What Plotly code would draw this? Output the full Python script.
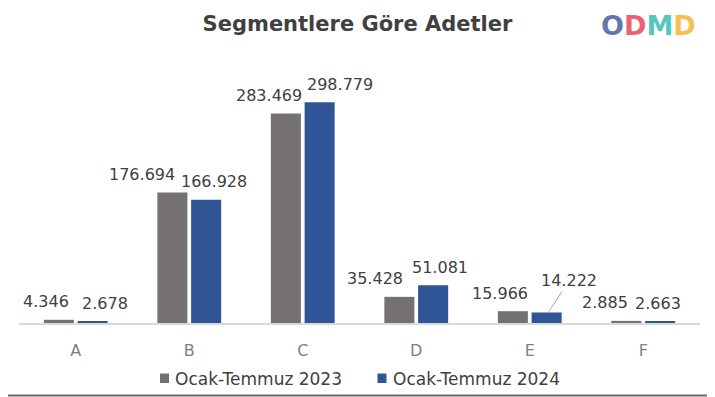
import plotly.graph_objects as go

categories = ["A", "B", "C", "D", "E", "F"]
series_2023 = [4346, 176694, 283469, 35428, 15966, 2885]
series_2024 = [2678, 166928, 298779, 51081, 14222, 2663]
series_names = ["Ocak-Temmuz 2023", "Ocak-Temmuz 2024"]
series_colors = ["#767171", "#2F5597"]
title_text = "Segmentlere Göre Adetler"
logo_letters = ["O", "D", "M", "D"]
logo_colors = ["#4A5FA0", "#E8475E", "#36BDB3", "#F5B533"]

# label horizontal offsets (px, from category centre) - styling only
label_dx_2023 = [-30, -47, -34, -41, -30, -38]
label_dx_2024 = [29, 25, 37, 24, 0, 15]
callout_category = "E"   # 2024 label drawn with leader line

# The page body has an 8px margin; the figure starts at (8, 8) in the window.
OFF = 8
W, H = 715 - OFF, 397 - OFF
ML, MT = 19 - OFF, 60 - OFF
MR = W - (700 - OFF)
MB = H - (323 - OFF)
PW, PH = W - ML - MR, H - MT - MB

FONT = "'DejaVu Sans', sans-serif"
TXT = "#404040"


def fmt(v):
    return f"{v:,}".replace(",", ".")


def sx(px):  # window px -> paper x
    return (px - OFF - ML) / PW


def sy(py):  # window px -> paper y
    return (OFF + H - MB - py) / PH


fig = go.Figure()
fig.add_bar(x=categories, y=series_2023, name=series_names[0], marker_color=series_colors[0],
            marker_line_width=0)
fig.add_bar(x=categories, y=series_2024, name=series_names[1], marker_color=series_colors[1],
            marker_line_width=0)

label_font = dict(family=FONT, size=16, color=TXT)
for c, v, dx in zip(categories, series_2023, label_dx_2023):
    fig.add_annotation(x=c, y=v, xref="x", yref="y", text=fmt(v), showarrow=False,
                       xshift=dx, yshift=18, yanchor="middle", font=label_font)
for c, v, dx in zip(categories, series_2024, label_dx_2024):
    if c == callout_category:
        fig.add_annotation(x=c, y=v, xref="x", yref="y", xshift=18.5, text=fmt(v),
                           showarrow=True, arrowhead=0, arrowcolor="#A6A6A6", arrowwidth=1,
                           ax=21, ay=-32, standoff=1, font=label_font)
    else:
        fig.add_annotation(x=c, y=v, xref="x", yref="y", text=fmt(v), showarrow=False,
                           xshift=dx, yshift=18, yanchor="middle", font=label_font)

# Logo
logo_html = "".join(f"<span style='color:{c}'>{ch}</span>" for ch, c in zip(logo_letters, logo_colors))
fig.add_annotation(x=sx(648), y=sy(25), xref="paper", yref="paper",
                   text=f"<b>{logo_html}</b>", showarrow=False, opacity=0.85,
                   xanchor="center", yanchor="middle",
                   font=dict(family="DejaVu Sans", size=27))

# Legend (drawn manually so it does not push the plot margins)
legend_items = [(160, 173), (377.5, 391)]
for (sq_x, tx_x), name, col in zip(legend_items, series_names, series_colors):
    fig.add_shape(type="rect", xref="paper", yref="paper",
                  x0=sx(sq_x), x1=sx(sq_x + 9), y0=sy(383), y1=sy(373.5),
                  line_width=0, fillcolor=col)
    fig.add_annotation(x=sx(tx_x), y=sy(378.5), xref="paper", yref="paper", text=name,
                       showarrow=False, xanchor="left", yanchor="middle",
                       font=dict(family=FONT, size=17, color=TXT))

fig.update_layout(
    width=W, height=H,
    margin=dict(l=ML, r=MR, t=MT, b=MB),
    paper_bgcolor="white", plot_bgcolor="white",
    barmode="group", bargap=0.405, bargroupgap=0.11,
    showlegend=False,
    title=dict(text=f"<b>{title_text}</b>", x=(357.5 - OFF) / W, xanchor="center",
               y=1 - (24 - OFF) / H, yanchor="middle",
               font=dict(family=FONT, size=21, color=TXT)),
    xaxis=dict(showline=True, linecolor="#D9D9D9", linewidth=1.5, ticks="",
               ticklabelstandoff=12, automargin=False,
               tickfont=dict(family=FONT, size=16, color="#7F7F7F"),
               showgrid=False, fixedrange=True),
    yaxis=dict(visible=False, range=[0, 356000], showgrid=False, automargin=False),
)
# photo frame edges (right, bottom)
frame = dict(color="#6B6B6B", width=2)
fig.add_shape(type="line", xref="paper", yref="paper", x0=sx(712), x1=sx(712),
              y0=sy(OFF), y1=sy(396), line=frame)
fig.add_shape(type="line", xref="paper", yref="paper", x0=sx(OFF), x1=sx(713),
              y0=sy(395.5), y1=sy(395.5), line=frame)
fig.write_html("out.html")
